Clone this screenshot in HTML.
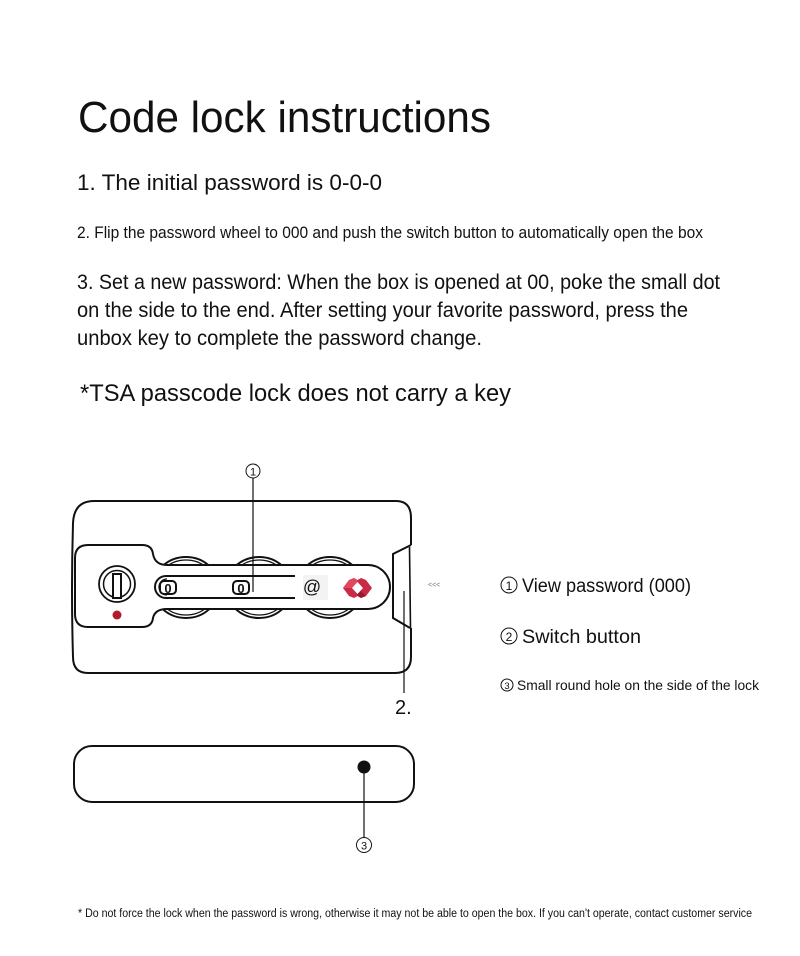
<!DOCTYPE html>
<html>
<head>
<meta charset="utf-8">
<style>
html,body{margin:0;padding:0;background:#fff;}
svg{display:block;}
text{font-family:"Liberation Sans","DejaVu Sans",sans-serif;fill:#111;}
</style>
</head>
<body>
<svg width="800" height="956" viewBox="0 0 800 956" xmlns="http://www.w3.org/2000/svg">
<rect width="800" height="956" fill="#fff"/>

<!-- Text block -->
<text x="78" y="132" font-size="44" textLength="413" lengthAdjust="spacingAndGlyphs">Code lock instructions</text>
<text x="77" y="190" font-size="22" textLength="305" lengthAdjust="spacingAndGlyphs">1. The initial password is 0-0-0</text>
<text x="77" y="238" font-size="16.5" textLength="626" lengthAdjust="spacingAndGlyphs">2. Flip the password wheel to 000 and push the switch button to automatically open the box</text>
<text x="77" y="289" font-size="21" textLength="643" lengthAdjust="spacingAndGlyphs">3. Set a new password: When the box is opened at 00, poke the small dot</text>
<text x="77" y="317" font-size="21" textLength="611" lengthAdjust="spacingAndGlyphs">on the side to the end. After setting your favorite password, press the</text>
<text x="77" y="345" font-size="21" textLength="405" lengthAdjust="spacingAndGlyphs">unbox key to complete the password change.</text>
<text x="80" y="401" font-size="24" textLength="431" lengthAdjust="spacingAndGlyphs">*TSA passcode lock does not carry a key</text>

<!-- Lock body fill -->
<path d="M 94 501 H 396 Q 411 501 411 518 V 657 Q 411 673 395 673 H 88 Q 73 673 73 657 Q 71 590 73 523 Q 74 501 94 501 Z" fill="#fff" stroke="none"/>
<!-- Lock body outline (open at button) -->
<path d="M 411 545 V 518 Q 411 501 396 501 H 94 Q 74 501 73 523 Q 71 590 73 657 Q 73 673 88 673 H 395 Q 411 673 411 657 V 628" fill="none" stroke="#111" stroke-width="2"/>
<!-- switch button -->
<path d="M 411 545 L 393 554 V 618 L 410 628" fill="#fff" stroke="#111" stroke-width="2"/>
<line x1="409.5" y1="547" x2="410.5" y2="628" stroke="#111" stroke-width="1.6"/>

<!-- wheels -->
<g fill="#fff" stroke="#111">
  <ellipse cx="186" cy="587.5" rx="33" ry="30.5" stroke-width="2"/>
  <ellipse cx="186" cy="587.5" rx="30" ry="27.5" stroke-width="1.3"/>
  <ellipse cx="259" cy="587.5" rx="33" ry="30.5" stroke-width="2"/>
  <ellipse cx="259" cy="587.5" rx="30" ry="27.5" stroke-width="1.3"/>
  <ellipse cx="330" cy="587.5" rx="33" ry="30.5" stroke-width="2"/>
  <ellipse cx="330" cy="587.5" rx="30" ry="27.5" stroke-width="1.3"/>
</g>

<!-- plate + bar -->
<path d="M 88 545 H 142 Q 152 545 153 554 Q 155 565 167 565 H 368 A 22 22 0 0 1 368 609 H 167 Q 155 609 153 618 Q 152 627 142 627 H 88 Q 75 627 75 614 V 558 Q 75 545 88 545 Z" fill="#fff" stroke="#111" stroke-width="2"/>

<!-- key cylinder -->
<circle cx="117" cy="584" r="18" fill="#fff" stroke="#111" stroke-width="1.8"/>
<circle cx="117" cy="584" r="13.5" fill="#fff" stroke="#111" stroke-width="1.5"/>
<rect x="113" y="574" width="8" height="24" fill="#fff" stroke="#111" stroke-width="2"/>
<circle cx="117" cy="615" r="4.5" fill="#b01c2a"/>

<!-- window -->
<path d="M 295 576 H 166 A 11 11 0 0 0 166 598 H 295" fill="#fff" stroke="#111" stroke-width="2"/>
<path d="M 167 579 A 8 8 0 0 0 167 595" fill="none" stroke="#111" stroke-width="1.3"/>
<rect x="160" y="581" width="16" height="13" rx="4" fill="#fff" stroke="#111" stroke-width="2"/>
<text x="168" y="593" font-size="13" font-weight="bold" text-anchor="middle">0</text>
<rect x="233" y="581" width="16" height="13" rx="4" fill="#fff" stroke="#111" stroke-width="2"/>
<text x="241" y="593" font-size="13" font-weight="bold" text-anchor="middle">0</text>

<!-- @ -->
<rect x="303" y="575" width="25" height="25" fill="#f3f3f3"/>
<text x="312" y="593" font-size="18" text-anchor="middle">@</text>

<!-- TSA logo -->
<polygon points="343,588 349,580 354,578 357.5,580 361,578 366,580 372,588 366,596 361,598 357.5,596 354,598 349,596" fill="#c92a45"/>
<polygon points="343,588 349,580 354,578 357.5,580 357.5,588" fill="#e04862"/>
<polygon points="357.5,588 366,596 361,598 357.5,596" fill="#9c1830"/>
<polygon points="357.5,582 363,588 357.5,594 352,588" fill="#fff"/>

<!-- leader 1 -->
<line x1="253" y1="478" x2="253" y2="592" stroke="#111" stroke-width="1.2"/>
<circle cx="253" cy="471" r="7" fill="#fff" stroke="#111" stroke-width="1"/>
<text x="253" y="475.5" font-size="11" text-anchor="middle">1</text>

<!-- leader 2 -->
<line x1="404" y1="591" x2="404" y2="693" stroke="#111" stroke-width="1.2"/>
<text x="395" y="714" font-size="20">2.</text>
<text x="428" y="587" font-size="7" style="fill:#777">&lt;&lt;&lt;</text>

<!-- bottom plate -->
<rect x="74" y="746" width="340" height="56" rx="18" fill="#fff" stroke="#111" stroke-width="2"/>
<circle cx="364" cy="767" r="6.5" fill="#111"/>
<line x1="364" y1="767" x2="364" y2="837" stroke="#111" stroke-width="1.2"/>
<circle cx="364" cy="845" r="7.5" fill="#fff" stroke="#111" stroke-width="1"/>
<text x="364" y="849.5" font-size="11" text-anchor="middle">3</text>

<!-- right labels -->
<circle cx="509" cy="585" r="8" fill="none" stroke="#111" stroke-width="1"/>
<text x="509" y="590" font-size="12" text-anchor="middle">1</text>
<text x="522" y="592" font-size="19" textLength="169" lengthAdjust="spacingAndGlyphs">View password (000)</text>

<circle cx="509" cy="636" r="8" fill="none" stroke="#111" stroke-width="1"/>
<text x="509" y="641" font-size="12" text-anchor="middle">2</text>
<text x="522" y="643" font-size="19" textLength="119" lengthAdjust="spacingAndGlyphs">Switch button</text>

<circle cx="507" cy="685" r="6" fill="none" stroke="#111" stroke-width="1"/>
<text x="507" y="689" font-size="9.5" text-anchor="middle">3</text>
<text x="517" y="690" font-size="14" textLength="242" lengthAdjust="spacingAndGlyphs">Small round hole on the side of the lock</text>

<!-- footer -->
<text x="78" y="917" font-size="11.5" textLength="674" lengthAdjust="spacingAndGlyphs">* Do not force the lock when the password is wrong, otherwise it may not be able to open the box. If you can't operate, contact customer service</text>
</svg>
</body>
</html>
